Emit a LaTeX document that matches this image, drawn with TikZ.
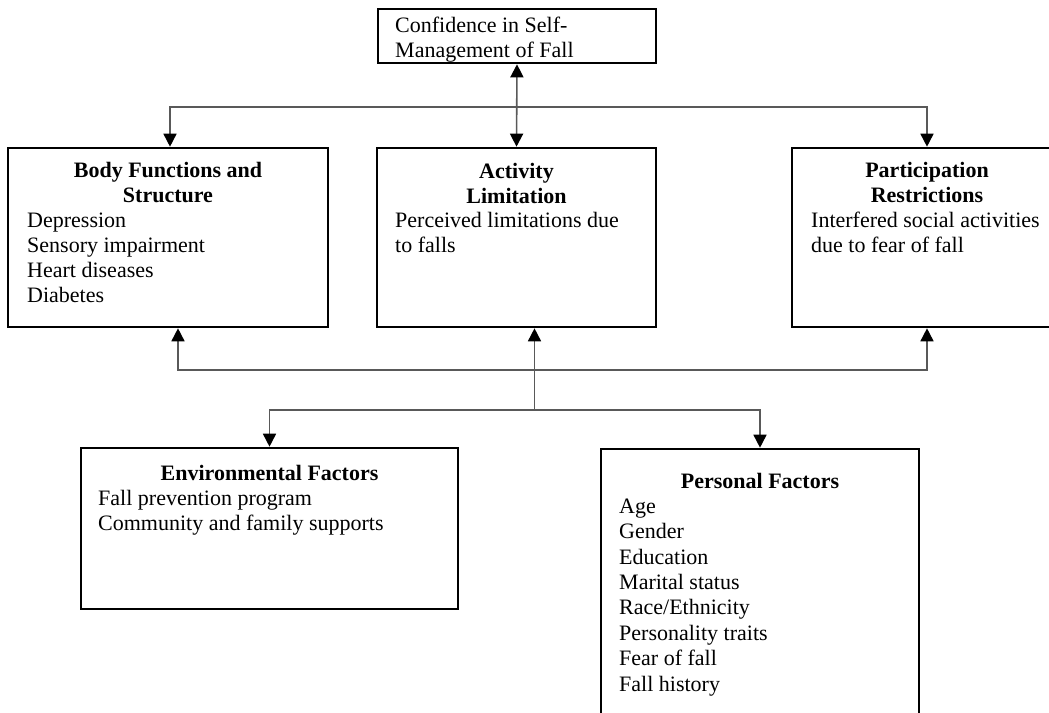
\documentclass[tikz,border=0pt]{standalone}
\usepackage{fontspec}
\setmainfont{Liberation Serif}
\usetikzlibrary{arrows.meta,positioning}
\tikzset{
  box/.style={draw=black,line width=2.6pt,inner sep=0pt,fill=white},
  conn/.style={draw=black!65,line width=1.6pt},
  arr/.style={-{Triangle[width=13pt,length=13pt,color=black]}},
  dbl/.style={{Triangle[width=13pt,length=13pt,color=black]}-{Triangle[width=13pt,length=13pt,color=black]}},
  ttl/.style={inner sep=0pt,align=center,font=\fontsize{22}{25}\selectfont\bfseries,anchor=base},
  txt/.style={inner sep=0pt,align=left,font=\fontsize{22}{25}\selectfont,anchor=base west},
}
\begin{document}
\begin{tikzpicture}[x=1pt,y=-1pt]
\useasboundingbox (0,0) rectangle (1049,712);
\clip (0,0) rectangle (1049,712);
% boxes
\node[box,minimum width=278pt,minimum height=54pt] (conf) at (517,36) {};
\node[box,minimum width=320pt,minimum height=179pt] (body) at (168,237.5) {};
\node[box,minimum width=279pt,minimum height=179pt] (act) at (516.5,237.5) {};
\node[box,minimum width=270pt,minimum height=179pt] (part) at (927,237.5) {};
\node[box,minimum width=377pt,minimum height=161pt] (env) at (269.5,528.5) {};
\node[box,minimum width=318pt,minimum height=311pt] (pers) at (760,604.5) {};
% texts (anchor = baseline of last line)
\node[txt] (confT) at (395,57) {Confidence in Self-\\Management of Fall};
\node[ttl] (bodyT) at (168,202) {Body Functions and\\Structure};
\node[txt] (bodyL) at (27,302) {Depression\\Sensory impairment\\Heart diseases\\Diabetes};
\node[ttl] (actT) at (516.5,203) {Activity\\Limitation};
\node[txt] (actL) at (395,252) {Perceived limitations due\\to falls};
\node[ttl] (partT) at (927,202) {Participation\\Restrictions};
\node[txt] (partL) at (811,252) {Interfered social activities\\due to fear of fall};
\node[ttl] (envT) at (269.5,480) {Environmental Factors};
\node[txt] (envL) at (98,530) {Fall prevention program\\Community and family supports};
\node[ttl] (persT) at (760,488) {Personal Factors};
\node[txt,font=\fontsize{22}{25.4}\selectfont] (persL) at (619,691) {Age\\Gender\\Education\\Marital status\\Race/Ethnicity\\Personality traits\\Fear of fall\\Fall history};
% connectors
\coordinate (tj) at (517,107);
\coordinate (mj) at (534.5,370);
\coordinate (lj) at (534.5,410);
\draw[conn,dbl] (conf.south) -- (act.north);
\draw[conn,arr] (tj) -| ([xshift=2pt]body.north);
\draw[conn,arr] (tj) -| (part.north);
\draw[conn,arr] (mj) -- ([xshift=18pt]act.south);
\draw[conn,arr] (mj) -| ([xshift=10pt]body.south);
\draw[conn,arr] (mj) -| (part.south);
\draw[conn] (lj) -- (mj);
\draw[conn,arr] (lj) -| (env.north);
\draw[conn,arr] (lj) -| (pers.north);
\end{tikzpicture}
\end{document}
